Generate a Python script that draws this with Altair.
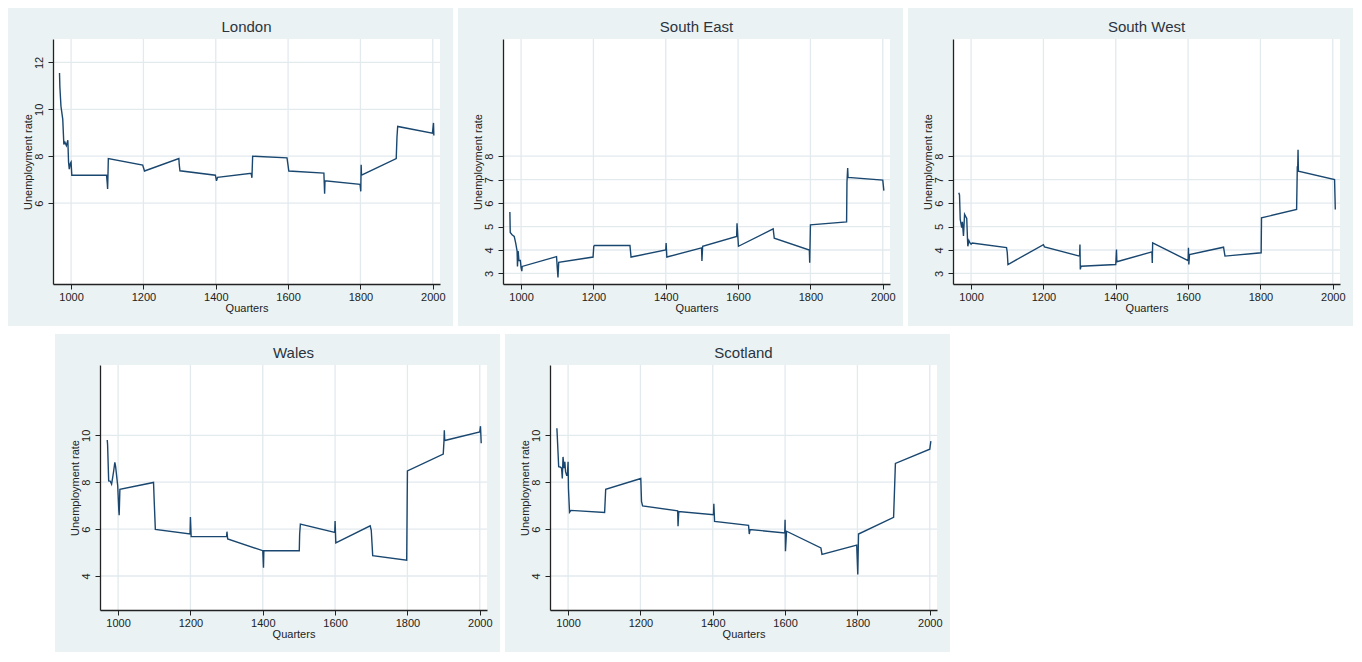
import altair as alt
import pandas as pd

# ---------------- data ----------------
x_ticks = [1000, 1200, 1400, 1600, 1800, 2000]

london_q = [968, 969, 972, 977, 980, 983, 987, 991, 993, 995, 998, 1000, 1002, 1098, 1100, 1101, 1102, 1103,
            1198, 1203, 1298, 1299, 1301, 1399, 1402, 1405, 1498, 1500, 1502, 1597, 1600, 1602, 1699, 1701,
            1702, 1799, 1801, 1802, 1803, 1899, 1901, 1903, 1999, 2002, 2003]
london_rate = [11.55, 10.95, 10.13, 9.57, 8.5, 8.6, 8.45, 8.68, 7.75, 7.45, 7.7, 7.75, 7.19, 7.19, 6.85, 6.6,
               7.2, 7.9, 7.62, 7.37, 7.9, 7.65, 7.38, 7.19, 6.95, 7.1, 7.27, 7.08, 8.0, 7.93, 7.6, 7.37, 7.28,
               6.4, 6.95, 6.8, 6.5, 7.64, 7.19, 7.9, 8.8, 9.27, 8.98, 9.42, 8.88]
london_yticks = [6, 8, 10, 12]

se_q = [969, 970, 975, 981, 985, 989, 990, 992, 994, 998, 1000, 1002, 1003, 1098, 1100, 1102, 1104, 1199,
        1201, 1203, 1301, 1304, 1400, 1401, 1403, 1499, 1500, 1502, 1596, 1597, 1601, 1697, 1700, 1797,
        1798, 1800, 1900, 1901, 1903, 1904, 2000, 2003]
se_rate = [5.62, 4.75, 4.65, 4.58, 4.3, 3.95, 3.3, 3.95, 3.55, 3.55, 3.25, 3.1, 3.3, 3.72, 3.25, 2.83, 3.47,
           3.7, 4.16, 4.19, 4.19, 3.7, 4.0, 4.3, 3.7, 4.09, 3.53, 4.16, 4.58, 5.14, 4.16, 4.9, 4.5, 4.0, 3.46,
           5.07, 5.2, 6.88, 7.5, 7.1, 6.98, 6.53]
se_yticks = [3, 4, 5, 6, 7, 8]

sw_q = [966, 968, 970, 974, 976, 979, 982, 986, 988, 990, 991, 994, 997, 1000, 1003, 1098, 1100, 1102, 1200,
        1203, 1300, 1301, 1302, 1304, 1400, 1402, 1403, 1500, 1501, 1502, 1600, 1601, 1602, 1604, 1698, 1702,
        1802, 1803, 1900, 1902, 1903, 1904, 1905, 2005, 2007]
sw_rate = [6.44, 6.35, 5.3, 4.95, 5.2, 4.6, 5.52, 5.4, 5.35, 4.5, 4.16, 4.4, 4.3, 4.25, 4.3, 4.1, 3.9, 3.38,
           4.23, 4.13, 3.74, 4.23, 3.17, 3.31, 3.38, 4.02, 3.5, 3.92, 3.45, 4.3, 3.55, 4.1, 3.38, 3.81, 4.12,
           3.74, 3.88, 5.37, 5.73, 7.57, 7.4, 8.28, 7.36, 7.0, 5.73]
sw_yticks = [3, 4, 5, 6, 7, 8]

wales_q = [970, 971, 974, 978, 982, 985, 988, 991, 993, 996, 999, 1002, 1003, 1005, 1098, 1100, 1103, 1199,
           1200, 1202, 1300, 1301, 1303, 1400, 1402, 1403, 1501, 1502, 1504, 1599, 1600, 1602, 1697, 1700,
           1704, 1798, 1800, 1899, 1901, 1902, 1903, 2000, 2002, 2004]
wales_rate = [9.8, 9.6, 8.06, 8.05, 7.92, 8.2, 8.5, 8.85, 8.69, 8.27, 7.85, 6.8, 6.59, 7.7, 7.99, 7.15, 5.99,
              5.79, 6.52, 5.68, 5.68, 5.89, 5.58, 5.08, 4.35, 5.08, 5.08, 5.78, 6.21, 5.86, 6.34, 5.41, 6.14,
              5.95, 4.87, 4.67, 8.48, 9.2, 9.73, 10.22, 9.78, 10.15, 10.39, 9.66]
wales_yticks = [4, 6, 8, 10]

scot_q = [969, 970, 974, 978, 982, 984, 986, 989, 991, 993, 996, 998, 1000, 1001, 1004, 1008, 1101, 1104,
          1201, 1203, 1206, 1303, 1304, 1306, 1402, 1403, 1405, 1499, 1501, 1503, 1599, 1600, 1601, 1604,
          1699, 1702, 1798, 1801, 1803, 1900, 1903, 1905, 2000, 2003]
scot_rate = [10.3, 10.0, 8.66, 8.65, 8.6, 8.16, 9.08, 8.6, 8.87, 8.45, 8.3, 8.3, 8.87, 7.74, 6.72, 6.8, 6.71,
             7.7, 8.16, 7.18, 6.99, 6.78, 6.12, 6.75, 6.61, 7.08, 6.33, 6.16, 5.79, 5.98, 5.84, 6.4, 5.06,
             5.91, 5.2, 4.92, 5.32, 4.07, 5.79, 6.5, 7.88, 8.8, 9.41, 9.75]
scot_yticks = [4, 6, 8, 10]

# ---------------- styling ----------------
BG = "#eaf2f3"
LINE = "#1a476f"
GRID = "#e2eaee"
FONT = "Liberation Sans"
TXT = "#222222"

W, H = 387, 245              # plot area
L, R, T, B = 45, 13, 31, 42  # panel background margins around plot area

X_DOMAIN = [950, 2020]
Y_DOMAIN = [2.55, 13.0]

ONE = pd.DataFrame({"k": [0]})


def panel(name, q, rate, yticks, extra_left=0):
    xs = alt.Scale(domain=X_DOMAIN, nice=False, zero=False)
    ys = alt.Scale(domain=Y_DOMAIN, nice=False, zero=False)
    xa = alt.Axis(values=x_ticks, title="Quarters", grid=False, zindex=1, format="d",
                  tickSize=5, labelPadding=2, titlePadding=0, labelOverlap=False)
    ya = alt.Axis(values=yticks, title="Unemployment rate", grid=False, zindex=1, format="d",
                  labelAngle=270, labelAlign="center", labelBaseline="bottom",
                  tickSize=5, labelPadding=4, titlePadding=0, labelOverlap=False)

    layers = []
    if extra_left:
        layers.append(alt.Chart(ONE).mark_rect(fill="white", clip=False).encode(
            x=alt.value(-L - extra_left), x2=alt.value(-L), y=alt.value(-T), y2=alt.value(H + B)))
    layers.append(alt.Chart(ONE).mark_rect(fill=BG, clip=False).encode(
        x=alt.value(-L), x2=alt.value(W + R), y=alt.value(-T), y2=alt.value(H + B)))
    layers.append(alt.Chart(ONE).mark_rect(fill="white").encode(
        x=alt.value(0), x2=alt.value(W), y=alt.value(0), y2=alt.value(H)))
    layers.append(alt.Chart(ONE).mark_text(fontSize=15, font=FONT, color="#2a3440", align="center",
                                           baseline="middle", clip=False).encode(
        x=alt.value(W / 2), y=alt.value(-12), text=alt.value(name)))
    layers.append(alt.Chart(pd.DataFrame({"quarter": x_ticks})).mark_rule(color=GRID, strokeWidth=1.3).encode(
        x=alt.X("quarter:Q", scale=xs, axis=xa)))
    layers.append(alt.Chart(pd.DataFrame({"rate": yticks})).mark_rule(color=GRID, strokeWidth=1.3).encode(
        y=alt.Y("rate:Q", scale=ys, axis=ya)))
    df = pd.DataFrame({"quarter": q, "rate": rate, "i": list(range(len(q)))})
    layers.append(alt.Chart(df).mark_line(color=LINE, strokeWidth=1.4, clip=True).encode(
        x=alt.X("quarter:Q", scale=xs, axis=xa),
        y=alt.Y("rate:Q", scale=ys, axis=ya),
        order="i:Q"))
    return alt.layer(*layers).properties(width=W, height=H)


# tiny invisible spacer that shifts the bottom row to the right
spacer = alt.Chart(ONE).mark_rect(opacity=0).encode(
    x=alt.value(0), x2=alt.value(1), y=alt.value(0), y2=alt.value(1)
).properties(width=1, height=H)

top = alt.hconcat(
    panel("London", london_q, london_rate, london_yticks),
    panel("South East", se_q, se_rate, se_yticks),
    panel("South West", sw_q, sw_rate, sw_yticks),
    spacing=5)
bottom = alt.hconcat(
    spacer,
    panel("Wales", wales_q, wales_rate, wales_yticks),
    panel("Scotland", scot_q, scot_rate, scot_yticks, extra_left=4),
    spacing=1)

chart = alt.vconcat(top, bottom, spacing=8).properties(
    background="white", padding=0
).configure_view(stroke=None).configure_axis(
    labelFont=FONT, titleFont=FONT, labelFontSize=11, titleFontSize=11,
    labelColor=TXT, titleColor=TXT, titleFontWeight="normal",
    domainColor="#222222", domainWidth=1.3, tickColor="#222222", tickWidth=1
)

chart.save("out.html", embed_options={"renderer": "svg", "actions": False})
